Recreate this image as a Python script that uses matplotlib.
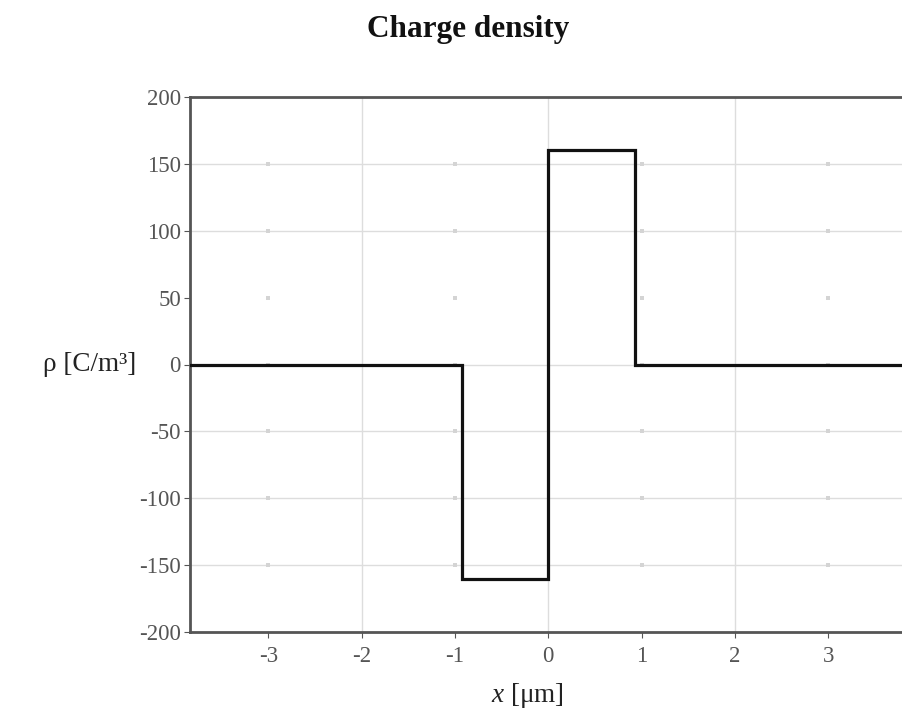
import numpy as np
import matplotlib.pyplot as plt

# charge density profile of the junction (step function)
x_edges = [-3.84, -0.93, 0.0, 0.93, 3.84]
rho_vals = [0, -160, 160, 0]

x_ticks = [-3, -2, -1, 0, 1, 2, 3]
y_ticks = [-200, -150, -100, -50, 0, 50, 100, 150, 200]

plt.rcParams['font.family'] = ['Liberation Serif', 'DejaVu Serif']
plt.rcParams['axes.unicode_minus'] = False
plt.rcParams['mathtext.fontset'] = 'custom'
plt.rcParams['mathtext.it'] = 'Liberation Serif:italic'
plt.rcParams['mathtext.rm'] = 'Liberation Serif'

fig = plt.figure(figsize=(9.03, 7.24), dpi=100)
ax = fig.add_axes([190 / 903, 1 - 632 / 724, 1.004 - 190 / 903, (632 - 97) / 724])

# grid: even x verticals, horizontal lines, small dots at odd x
grid_c = '#dddddd'
for xv in x_ticks:
    if xv % 2 == 0:
        ax.axvline(xv, color=grid_c, lw=1.0, zorder=0)
for yv in y_ticks[1:-1]:
    if yv != 50:
        ax.axhline(yv, color=grid_c, lw=1.0, zorder=0)
odd_x = [v for v in x_ticks if v % 2 != 0]
dx, dy = np.meshgrid(odd_x, y_ticks[1:-1])
ax.scatter(dx.ravel(), dy.ravel(), s=7, marker='s', color='#d4d4d4', lw=0, zorder=0)

xs = np.repeat(x_edges, 2)[1:-1]
ys = np.repeat(rho_vals, 2)
ax.plot(xs, ys, color='#111111', lw=2.3, solid_joinstyle='miter', zorder=3)

ax.set_xlim(x_edges[0], x_edges[-1])
ax.set_ylim(-200, 200)
ax.set_xticks(x_ticks)
ax.set_yticks(y_ticks)
ax.tick_params(labelsize=16.5, colors='#555555', length=4, width=0.8)
ax.tick_params(axis='x', pad=6)
ax.tick_params(axis='y', pad=2.5)
for side in ['left', 'top', 'bottom']:
    ax.spines[side].set_linewidth(2.0)
    ax.spines[side].set_color('#555555')
ax.spines['right'].set_visible(False)

fig.text(468 / 903, 1 - 30 / 724, 'Charge density', ha='center', va='center',
         fontsize=22.5, fontweight='bold', color='#111111')
fig.text(90 / 903, 1 - 364 / 724, 'ρ [C/m³]', ha='center', va='center',
         fontsize=19.5, color='#222222')
fig.text(527 / 903, 1 - 695 / 724, '$x$ [μm]', ha='center', va='center',
         fontsize=19.5, color='#222222')

fig.savefig('out.png', dpi=100)
